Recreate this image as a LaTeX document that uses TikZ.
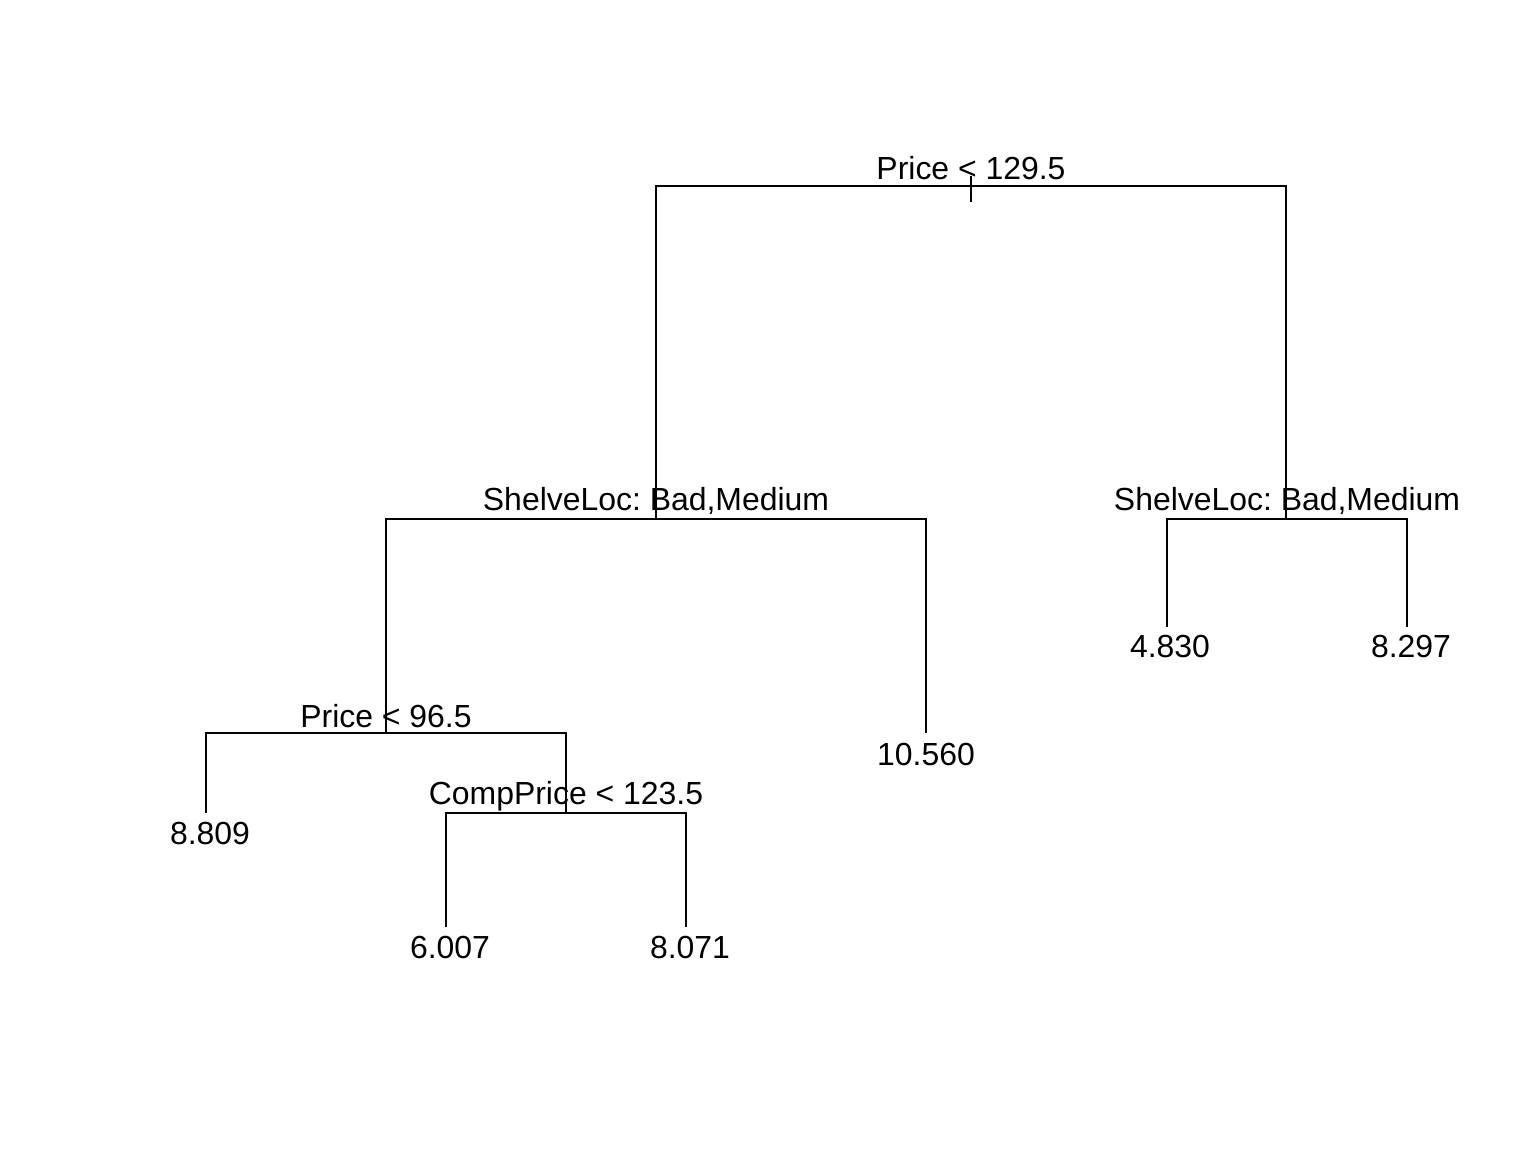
\documentclass[tikz,border=0pt]{standalone}
\usepackage{fontspec}
\setmainfont{Liberation Sans}
\frenchspacing
\begin{document}
\begin{tikzpicture}[x=0.01cm,y=-0.01cm,
  branch/.style={line width=0.6pt,line cap=butt},
  splitlabel/.style={anchor=base,inner sep=0pt,font=\fontsize{9.08}{11}\selectfont},
  leaflabel/.style={anchor=base,inner sep=0pt,font=\fontsize{9.08}{11}\selectfont}]
\useasboundingbox (0,0) rectangle (1536,1152);

% split points
\coordinate (root) at (971,186);
\coordinate (rootstem) at (971,202);
\coordinate (shelveL) at (656,519);
\coordinate (shelveR) at (1286,519);
\coordinate (priceL) at (386,733);
\coordinate (comp) at (566,813);
% leaf ends
\coordinate (l8809) at (206,813);
\coordinate (l6007) at (446,927);
\coordinate (l8071) at (686,927);
\coordinate (l10560) at (926,733);
\coordinate (l4830) at (1167,627);
\coordinate (l8297) at (1407,627);

% branches
\draw[branch] (root) ++(0,-10) -- (rootstem);
\draw[branch] (shelveL) |- (root) -| (shelveR);
\draw[branch] (priceL) |- (shelveL) -| (l10560);
\draw[branch] (l4830) |- (shelveR) -| (l8297);
\draw[branch] (l8809) |- (priceL) -| (comp);
\draw[branch] (l6007) |- (comp) -| (l8071);

% split labels
\node[splitlabel] (troot) at (971,180) {Price < 129.5};
\node[splitlabel] (tshelveL) at (656,511) {ShelveLoc: Bad,Medium};
\node[splitlabel] (tshelveR) at (1287,511) {ShelveLoc: Bad,Medium};
\node[splitlabel] (tpriceL) at (386,727) {Price < 96.5};
\node[splitlabel] (tcomp) at (566,804) {CompPrice < 123.5};

% leaf labels
\node[leaflabel] (t8809) at (210,844) {8.809};
\node[leaflabel] (t6007) at (450,958) {6.007};
\node[leaflabel] (t8071) at (690,958) {8.071};
\node[leaflabel] (t10560) at (926,765) {10.560};
\node[leaflabel] (t4830) at (1170,657) {4.830};
\node[leaflabel] (t8297) at (1411,657) {8.297};
\end{tikzpicture}
\end{document}
